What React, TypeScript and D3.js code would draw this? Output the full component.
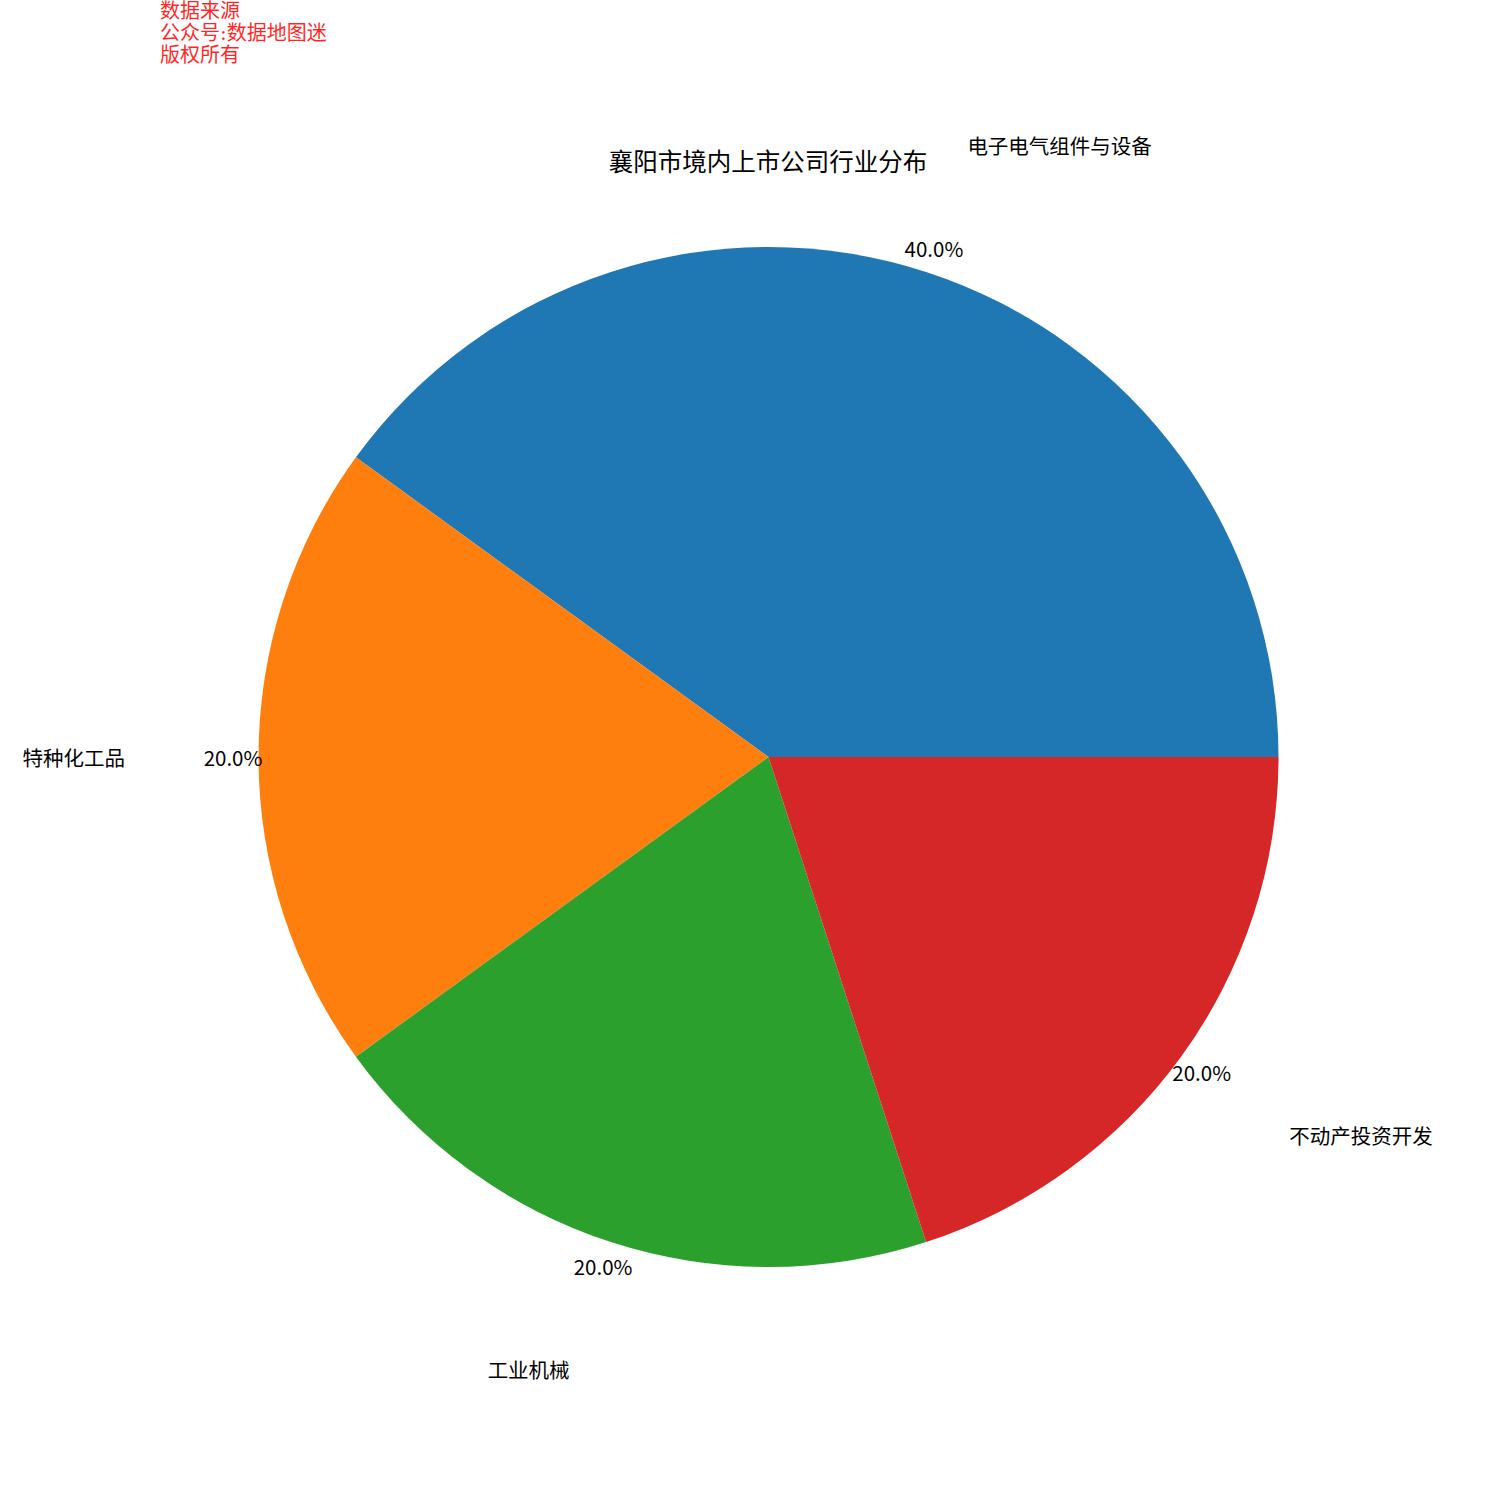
import React from "react";
import * as d3 from "d3";

const categories = ["电子电气组件与设备", "特种化工品", "工业机械", "不动产投资开发"];
const counts = [2, 1, 1, 1];
const colors = ["#1f77b4", "#ff7f0e", "#2ca02c", "#d62728"];
const title = "襄阳市境内上市公司行业分布";
const watermark = ["数据来源", "公众号:数据地图迷", "版权所有"];

export default function App() {
  const W = 1500, H = 1500;
  const cx = 768.5, cy = 757, R = 510;
  const labelDist = 1.262, pctDist = 1.05;
  const pie = d3.pie<number>().sort(null).startAngle(Math.PI / 2).endAngle(Math.PI / 2 - 2 * Math.PI);
  const arcs = pie(counts);
  const arc = d3.arc<d3.PieArcDatum<number>>().innerRadius(0).outerRadius(R);
  const total = d3.sum(counts);
  const font = "'Noto Sans CJK SC', sans-serif";
  return (
    <svg width={W} height={H} style={{ position: "absolute", left: 0, top: 0, background: "#fff" }}>
      <g transform={`translate(${cx},${cy})`}>
        {arcs.map((a, i) => (
          <path key={i} d={arc(a) || ""} fill={colors[i]} />
        ))}
        {arcs.map((a, i) => {
          const mid = (a.startAngle + a.endAngle) / 2;
          const sx = Math.sin(mid), sy = -Math.cos(mid);
          const lx = sx * R * labelDist, ly = sy * R * labelDist;
          const px = sx * R * pctDist, py = sy * R * pctDist;
          const anchor = sx > 1e-9 ? "start" : sx < -1e-9 ? "end" : "middle";
          return (
            <g key={"t" + i} fontFamily={font} fontSize={20.5} fill="#000">
              <text x={lx} y={ly} textAnchor={anchor} dominantBaseline="central">{categories[i]}</text>
              <text x={px} y={py} textAnchor="middle" dominantBaseline="central">{d3.format(".1%")(counts[i] / total)}</text>
            </g>
          );
        })}
      </g>
      <text x={768} y={160} textAnchor="middle" dominantBaseline="central" fontFamily={font} fontSize={24.5} fill="#000">{title}</text>
      {watermark.map((t, i) => (
        <text key={i} x={160} y={18 + i * 22} fontFamily={"'DejaVu Serif', 'Noto Sans CJK SC', serif"} fontSize={20} fill="#ff0000" opacity={0.85}>{t}</text>
      ))}
    </svg>
  );
}
